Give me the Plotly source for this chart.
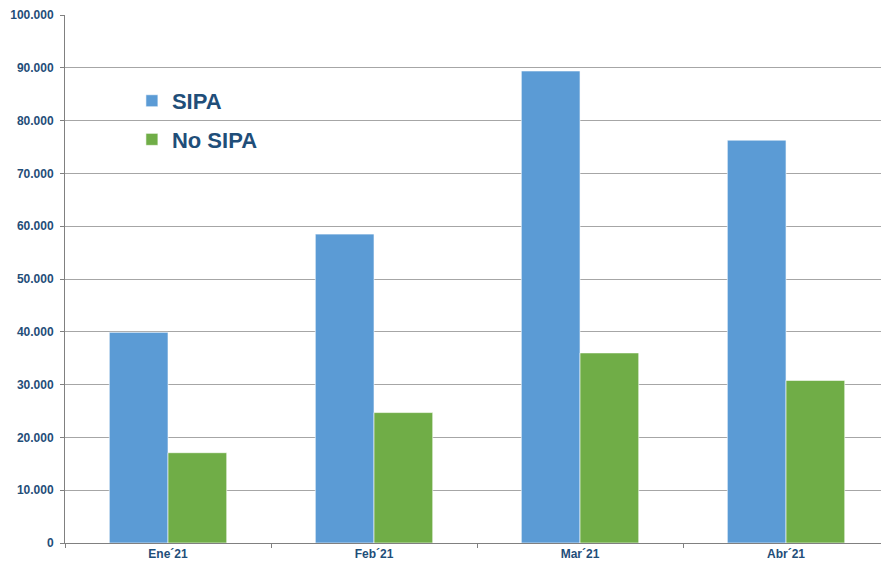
import plotly.graph_objects as go

categories = ["Ene´21", "Feb´21", "Mar´21", "Abr´21"]
sipa = [39900, 58500, 89400, 76300]
no_sipa = [17100, 24700, 36000, 30800]

text_color = "#1F4E79"
font_family = "Liberation Sans, Arial, sans-serif"

fig = go.Figure()
fig.add_trace(go.Bar(
    x=categories, y=sipa, name="SIPA", legendgroup="a",
    marker=dict(color="#5B9BD5", line=dict(color="rgba(255,255,255,0.6)", width=1)),
))
fig.add_trace(go.Bar(
    x=categories, y=no_sipa, name="No SIPA", legendgroup="b",
    marker=dict(color="#70AD47", line=dict(color="rgba(255,255,255,0.6)", width=1)),
))

fig.update_layout(
    width=881, height=566,
    margin=dict(l=65, r=0, t=15, b=23),
    paper_bgcolor="white", plot_bgcolor="white",
    separators=",.",
    barmode="group", bargap=0.43, bargroupgap=0,
    font=dict(family=font_family, color=text_color),
    showlegend=True,
    legend=dict(
        x=0.082, y=0.877, xanchor="left", yanchor="top",
        font=dict(size=22, color=text_color, family=font_family, weight="bold"),
        bgcolor="rgba(0,0,0,0)", tracegroupgap=7, traceorder="grouped",
    ),
    xaxis=dict(
        type="category", range=[-0.5, 3.461],
        showline=True, linecolor="#808080", linewidth=1,
        ticks="outside", tickson="boundaries", ticklen=4, tickcolor="#808080",
        tickfont=dict(size=12, color=text_color, family=font_family, weight="bold"),
        showgrid=False,
    ),
    yaxis=dict(
        range=[0, 100000], dtick=10000, tickformat=",.0f",
        showline=True, linecolor="#808080", linewidth=1,
        ticks="outside", ticklen=4, tickcolor="#808080",
        ticklabelstandoff=4,
        showgrid=True, gridcolor="#A6A6A6", gridwidth=1,
        tickfont=dict(size=12, color=text_color, family=font_family, weight="bold"),
        zeroline=False,
    ),
)

fig.write_html(
    "out.html",
    config={"displayModeBar": False},
    post_script="document.body.style.margin='0px';document.body.style.overflow='hidden';",
)
